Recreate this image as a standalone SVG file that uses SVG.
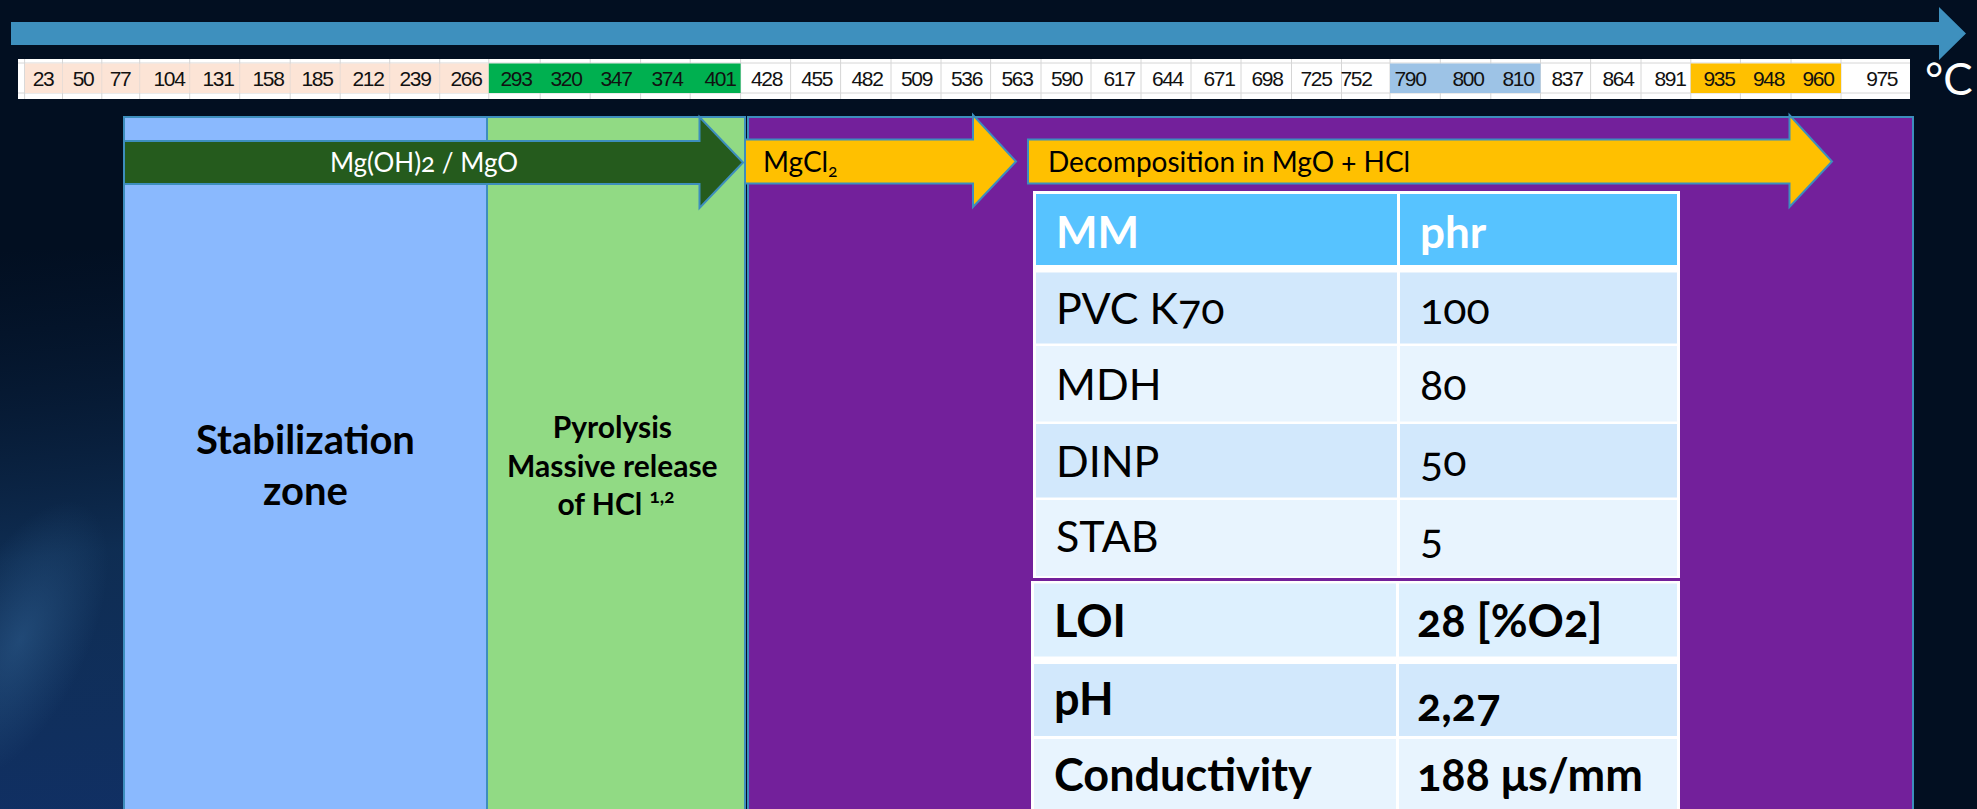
<svg xmlns="http://www.w3.org/2000/svg" width="1977" height="809" viewBox="0 0 1977 809">
  <defs>
    <linearGradient id="bgFade" x1="0" y1="250" x2="60" y2="809" gradientUnits="userSpaceOnUse">
      <stop offset="0" stop-color="#0a2448" stop-opacity="0"/>
      <stop offset="0.55" stop-color="#143a68" stop-opacity="0.7"/>
      <stop offset="1" stop-color="#12336a" stop-opacity="0.9"/>
    </linearGradient>
    <radialGradient id="bgGlow" cx="20" cy="640" r="150" gradientUnits="userSpaceOnUse" gradientTransform="translate(20 640) rotate(-65) scale(1 0.45) translate(-20 -640)">
      <stop offset="0" stop-color="#2f5f8f" stop-opacity="0.55"/>
      <stop offset="1" stop-color="#2f5f8f" stop-opacity="0"/>
    </radialGradient>
    <style>
      .num { font-family: "Liberation Sans", Arial, sans-serif; font-size: 21px; letter-spacing: -1.4px; text-anchor: middle; fill: #111; }
      .grid { stroke: #d6d6d6; stroke-width: 1; }
      .zone { stroke: #3d8ebd; stroke-width: 2; }
      .arrow { stroke: #3d8ebd; stroke-width: 2; stroke-linejoin: miter; }
      .cal { font-family: Lato, "Open Sans", "Liberation Sans", sans-serif; font-variant-numeric: oldstyle-nums; font-feature-settings: "onum"; }
      .zlabel { font-weight: bold; text-anchor: middle; fill: #000; }
      .th { font-size: 44px; font-weight: bold; fill: #fff; }
      .td { font-size: 43px; fill: #000; }
      .tb { font-size: 45px; font-weight: bold; fill: #000; }
    </style>
  </defs>

  <!-- backdrop -->
  <rect x="0" y="0" width="1977" height="809" fill="#020f21"/>
  <rect x="0" y="250" width="124" height="559" fill="url(#bgFade)"/>
  <rect x="0" y="400" width="124" height="409" fill="url(#bgGlow)"/>

  <!-- temperature axis arrow -->
  <g id="temperature-axis">
    <polygon points="11,22 1939,22 1939,7 1966,33.5 1939,60 1939,45 11,45" fill="#3e90be"/>
  </g>

  <!-- temperature scale row -->
  <g id="temperature-scale">
    <rect x="18" y="59" width="1892" height="40" fill="#ffffff"/>
    <g class="grid">
      <line x1="18" y1="63" x2="1910" y2="63"/>
      <line x1="18" y1="93" x2="1910" y2="93"/>
      <line x1="24.6" y1="59" x2="24.6" y2="99"/><line x1="62.5" y1="59" x2="62.5" y2="99"/>
      <line x1="101.8" y1="59" x2="101.8" y2="99"/><line x1="139.7" y1="59" x2="139.7" y2="99"/>
      <line x1="189.7" y1="59" x2="189.7" y2="99"/><line x1="239.7" y1="59" x2="239.7" y2="99"/>
      <line x1="290.2" y1="59" x2="290.2" y2="99"/><line x1="340.2" y1="59" x2="340.2" y2="99"/>
      <line x1="389.7" y1="59" x2="389.7" y2="99"/><line x1="439.7" y1="59" x2="439.7" y2="99"/>
      <line x1="488.8" y1="59" x2="488.8" y2="99"/><line x1="540.2" y1="59" x2="540.2" y2="99"/>
      <line x1="590.2" y1="59" x2="590.2" y2="99"/><line x1="640.6" y1="59" x2="640.6" y2="99"/>
      <line x1="690.2" y1="59" x2="690.2" y2="99"/><line x1="740.6" y1="59" x2="740.6" y2="99"/>
      <line x1="790.6" y1="59" x2="790.6" y2="99"/><line x1="840.6" y1="59" x2="840.6" y2="99"/>
      <line x1="891" y1="59" x2="891" y2="99"/><line x1="941" y1="59" x2="941" y2="99"/>
      <line x1="990.6" y1="59" x2="990.6" y2="99"/><line x1="1041" y1="59" x2="1041" y2="99"/>
      <line x1="1091" y1="59" x2="1091" y2="99"/><line x1="1141" y1="59" x2="1141" y2="99"/>
      <line x1="1191" y1="59" x2="1191" y2="99"/><line x1="1241" y1="59" x2="1241" y2="99"/>
      <line x1="1291.5" y1="59" x2="1291.5" y2="99"/><line x1="1341.5" y1="59" x2="1341.5" y2="99"/>
      <line x1="1390" y1="59" x2="1390" y2="99"/><line x1="1440.3" y1="59" x2="1440.3" y2="99"/>
      <line x1="1490.8" y1="59" x2="1490.8" y2="99"/><line x1="1540.5" y1="59" x2="1540.5" y2="99"/>
      <line x1="1590.6" y1="59" x2="1590.6" y2="99"/><line x1="1641" y1="59" x2="1641" y2="99"/>
      <line x1="1690.8" y1="59" x2="1690.8" y2="99"/><line x1="1740.4" y1="59" x2="1740.4" y2="99"/>
      <line x1="1791" y1="59" x2="1791" y2="99"/><line x1="1841" y1="59" x2="1841" y2="99"/>
    </g>
    <!-- highlighted ranges -->
    <rect x="25" y="63.5" width="463.8" height="29.5" fill="#fce4d6"/>
    <rect x="488.8" y="63.5" width="251.8" height="29.5" fill="#00b050"/>
    <rect x="1390" y="63.5" width="150.5" height="29.5" fill="#9dc3e6"/>
    <rect x="1690.8" y="63.5" width="150.2" height="29.5" fill="#ffc000"/>
    <g class="grid">
      <line x1="62.5" y1="63" x2="62.5" y2="93" stroke-opacity="0.5"/><line x1="101.8" y1="63" x2="101.8" y2="93" stroke-opacity="0.5"/>
      <line x1="139.7" y1="63" x2="139.7" y2="93" stroke-opacity="0.5"/><line x1="189.7" y1="63" x2="189.7" y2="93" stroke-opacity="0.5"/>
      <line x1="239.7" y1="63" x2="239.7" y2="93" stroke-opacity="0.5"/><line x1="290.2" y1="63" x2="290.2" y2="93" stroke-opacity="0.5"/>
      <line x1="340.2" y1="63" x2="340.2" y2="93" stroke-opacity="0.5"/><line x1="389.7" y1="63" x2="389.7" y2="93" stroke-opacity="0.5"/>
      <line x1="439.7" y1="63" x2="439.7" y2="93" stroke-opacity="0.5"/>
    </g>
    <g class="num">
      <text x="43" y="86">23</text><text x="83" y="86">50</text><text x="120" y="86">77</text>
      <text x="169" y="86">104</text><text x="218" y="86">131</text><text x="268" y="86">158</text>
      <text x="317" y="86">185</text><text x="368" y="86">212</text><text x="415" y="86">239</text>
      <text x="466" y="86">266</text><text x="516" y="86">293</text><text x="566" y="86">320</text>
      <text x="616" y="86">347</text><text x="667" y="86">374</text><text x="720" y="86">401</text>
      <text x="766.5" y="86">428</text><text x="816.7" y="86">455</text><text x="867" y="86">482</text>
      <text x="916.5" y="86">509</text><text x="966.5" y="86">536</text><text x="1017" y="86">563</text>
      <text x="1066.5" y="86">590</text><text x="1119" y="86">617</text><text x="1167.4" y="86">644</text>
      <text x="1219" y="86">671</text><text x="1267" y="86">698</text><text x="1316" y="86">725</text>
      <text x="1356" y="86">752</text><text x="1410" y="86">790</text><text x="1468" y="86">800</text>
      <text x="1518" y="86">810</text><text x="1567" y="86">837</text><text x="1618" y="86">864</text>
      <text x="1670" y="86">891</text><text x="1719" y="86">935</text><text x="1768.5" y="86">948</text>
      <text x="1818" y="86">960</text><text x="1881.6" y="86">975</text>
    </g>
    <text class="cal" x="1925" y="95" font-size="44" fill="#ffffff">°C</text>
  </g>

  <!-- zones -->
  <g id="stabilization-zone">
    <rect class="zone" x="124" y="117" width="363" height="700" fill="#8ab9fe"/>
    <text class="cal zlabel" font-size="40"><tspan x="305.5" y="454">Stabilization</tspan><tspan x="305.5" y="505">zone</tspan></text>
  </g>
  <g id="pyrolysis-zone">
    <rect class="zone" x="487" y="117" width="258" height="700" fill="#91da84"/>
    <text class="cal zlabel" font-size="30">
      <tspan x="616" y="438">Pyrolysis</tspan>
      <tspan x="616" y="477">Massive release</tspan>
      <tspan x="616" y="515">of HCl <tspan font-size="19" dy="-12">1,2</tspan></tspan>
    </text>
  </g>
  <g id="decomposition-zone">
    <rect class="zone" x="748" y="117" width="1165" height="700" fill="#73209b" stroke-width="3"/>
  </g>

  <!-- phase arrows -->
  <g id="connectors">
    <g id="arrow-mgoh2">
      <polygon class="arrow" points="124,141 699.5,141 699.5,117 743,162.5 699.5,208 699.5,184 124,184" fill="#255b1d"/>
      <text class="cal" x="424" y="172" font-size="26" fill="#ffffff" text-anchor="middle">Mg(OH)2 / MgO</text>
    </g>
    <g id="arrow-mgcl2">
      <polygon class="arrow" points="745,139.5 973,139.5 973,115 1016,161.5 973,207 973,183.5 745,183.5" fill="#ffc000"/>
      <text class="cal" x="763" y="172" font-size="28" fill="#000000">MgCl<tspan font-size="17" dy="5">2</tspan></text>
    </g>
    <g id="arrow-decomposition">
      <polygon class="arrow" points="1028,139.5 1789.5,139.5 1789.5,115 1832,161.5 1789.5,207 1789.5,183.5 1028,183.5" fill="#ffc000"/>
      <text class="cal" x="1048" y="172" font-size="28" fill="#000000">Decomposition in MgO + HCl</text>
    </g>
  </g>

  <!-- formulation table -->
  <g id="formulation-table">
    <rect x="1033" y="191" width="647" height="387" fill="#ffffff"/>
    <rect x="1036" y="194" width="361" height="71" fill="#57c3ff"/>
    <rect x="1400" y="194" width="277" height="71" fill="#57c3ff"/>
    <rect x="1036" y="272.5" width="361" height="71" fill="#d2e8fc"/>
    <rect x="1400" y="272.5" width="277" height="71" fill="#d2e8fc"/>
    <rect x="1036" y="346" width="361" height="75.5" fill="#e8f4fe"/>
    <rect x="1400" y="346" width="277" height="75.5" fill="#e8f4fe"/>
    <rect x="1036" y="424" width="361" height="73.5" fill="#d2e8fc"/>
    <rect x="1400" y="424" width="277" height="73.5" fill="#d2e8fc"/>
    <rect x="1036" y="500" width="361" height="76" fill="#e8f4fe"/>
    <rect x="1400" y="500" width="277" height="76" fill="#e8f4fe"/>
    <g class="cal">
      <text class="th" x="1056" y="248">MM</text>
      <text class="th" x="1420" y="248">phr</text>
      <text class="td" x="1056" y="324">PVC K70</text>
      <text class="td" x="1420" y="324">100</text>
      <text class="td" x="1056" y="400">MDH</text>
      <text class="td" x="1420" y="400">80</text>
      <text class="td" x="1056" y="477">DINP</text>
      <text class="td" x="1420" y="476">50</text>
      <text class="td" x="1056" y="552">STAB</text>
      <text class="td" x="1420" y="553">5</text>
    </g>
  </g>

  <!-- properties table -->
  <g id="properties-table">
    <rect x="1031" y="581" width="649" height="228" fill="#ffffff"/>
    <rect x="1034" y="583.5" width="362" height="73" fill="#ddf0fe"/>
    <rect x="1399" y="583.5" width="278" height="73" fill="#ddf0fe"/>
    <rect x="1034" y="664" width="362" height="72" fill="#d2e8fc"/>
    <rect x="1399" y="664" width="278" height="72" fill="#d2e8fc"/>
    <rect x="1034" y="739" width="362" height="70" fill="#e8f4fe"/>
    <rect x="1399" y="739" width="278" height="70" fill="#e8f4fe"/>
    <g class="cal">
      <text class="tb" x="1054" y="637">LOI</text>
      <text class="tb" x="1417" y="637">28 [%O2]</text>
      <text class="tb" x="1054" y="715">pH</text>
      <text class="tb" x="1417" y="721">2,27</text>
      <text class="tb" x="1054" y="791">Conductivity</text>
      <text class="tb" x="1417" y="791">188 μs/mm</text>
    </g>
  </g>
</svg>
